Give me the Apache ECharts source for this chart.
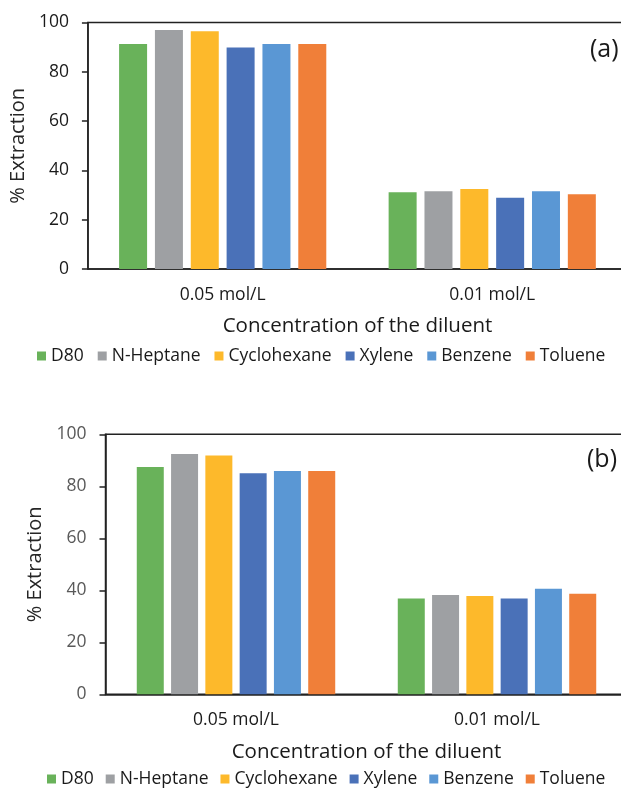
<!DOCTYPE html>
<html>
<head>
<meta charset="utf-8">
<script src="https://cdn.jsdelivr.net/npm/echarts@6/dist/echarts.min.js"></script>
<style>
html,body{margin:0;padding:0;background:#fff;overflow:hidden;width:621px;height:797px;}
#chart{width:640px;height:797px;}
</style>
</head>
<body>
<div id="chart"></div>
<script>
const categories = ['0.05 mol/L', '0.01 mol/L'];
const diluents = ['D80', 'N-Heptane', 'Cyclohexane', 'Xylene', 'Benzene', 'Toluene'];
const yTicks = [0, 20, 40, 60, 80, 100];

// panel (a)
const aD80 = [91.3, 31.1];
const aHeptane = [97.0, 31.5];
const aCyclohexane = [96.4, 32.5];
const aXylene = [89.9, 28.9];
const aBenzene = [91.3, 31.5];
const aToluene = [91.3, 30.3];

// panel (b)
const bD80 = [87.4, 36.8];
const bHeptane = [92.4, 38.2];
const bCyclohexane = [91.8, 37.8];
const bXylene = [85.0, 36.8];
const bBenzene = [85.9, 40.6];
const bToluene = [85.9, 38.7];

const colors = ['#69B25A', '#9EA0A3', '#FDB92B', '#4A71B8', '#5A97D4', '#F07F39'];
const aSeries = [aD80, aHeptane, aCyclohexane, aXylene, aBenzene, aToluene];
const bSeries = [bD80, bHeptane, bCyclohexane, bXylene, bBenzene, bToluene];

const FONT = 'Open Sans';
const chart = echarts.init(document.getElementById('chart'));

function xAxisDef(gridIndex) {
  return {
    type: 'category', gridIndex, data: categories,
    axisLine: {lineStyle: {color: '#222', width: 1.5}},
    axisTick: {show: false},
    axisLabel: {color: '#1a1a1a', fontSize: 17.5, fontFamily: FONT, margin: 17},
    name: 'Concentration of the diluent', nameLocation: 'middle', nameGap: 47,
    nameTextStyle: {color: '#1a1a1a', fontSize: 20.5, fontFamily: FONT}
  };
}
function yAxisDef(gridIndex, labelColor, nameGap) {
  return {
    type: 'value', gridIndex, min: yTicks[0], max: yTicks[yTicks.length - 1], interval: 20,
    axisLine: {show: true, lineStyle: {color: '#222', width: 1.5}},
    axisTick: {show: true, length: 6, lineStyle: {color: '#222', width: 1.5}},
    splitLine: {show: false},
    axisLabel: {color: labelColor, fontSize: 17.5, fontFamily: FONT, margin: 19},
    name: '% Extraction', nameLocation: 'middle', nameRotate: 90, nameGap,
    nameTextStyle: {color: '#262626', fontSize: 20, fontFamily: FONT}
  };
}

const series = [];
diluents.forEach((name, i) => {
  series.push({
    name, type: 'bar', xAxisIndex: 0, yAxisIndex: 0, data: aSeries[i],
    barWidth: 28, barGap: '28%', itemStyle: {color: colors[i]}
  });
});
diluents.forEach((name, i) => {
  series.push({
    name, type: 'bar', xAxisIndex: 1, yAxisIndex: 1, data: bSeries[i],
    barWidth: 27, barGap: '27%', itemStyle: {color: colors[i]}
  });
});

const legendCommon = {
  data: diluents, icon: 'rect', itemWidth: 9, itemHeight: 9, padding: 0,
  textStyle: {color: '#1a1a1a', fontSize: 17.5, fontFamily: FONT}, selectedMode: false
};

chart.setOption({
  animation: false,
  backgroundColor: '#fff',
  grid: [
    {left: 87, top: 22.5, width: 540, height: 246.5, show: true, borderColor: '#222', borderWidth: 1.5, backgroundColor: 'transparent'},
    {left: 105.5, top: 434.3, width: 522, height: 260, show: true, borderColor: '#222', borderWidth: 1.5, backgroundColor: 'transparent'}
  ],
  xAxis: [xAxisDef(0), xAxisDef(1)],
  yAxis: [yAxisDef(0, '#1a1a1a', 46), yAxisDef(1, '#595959', 50)],
  legend: [
    Object.assign({left: 37, top: 347, itemGap: 14}, legendCommon),
    Object.assign({left: 47, top: 770, itemGap: 12}, legendCommon)
  ],
  graphic: [
    {type: 'text', left: 590, top: 37, style: {text: '(a)', fontSize: 25, fontFamily: FONT, fill: '#1a1a1a'}},
    {type: 'text', left: 587, top: 447, style: {text: '(b)', fontSize: 25, fontFamily: FONT, fill: '#1a1a1a'}}
  ],
  series
});
</script>
</body>
</html>
